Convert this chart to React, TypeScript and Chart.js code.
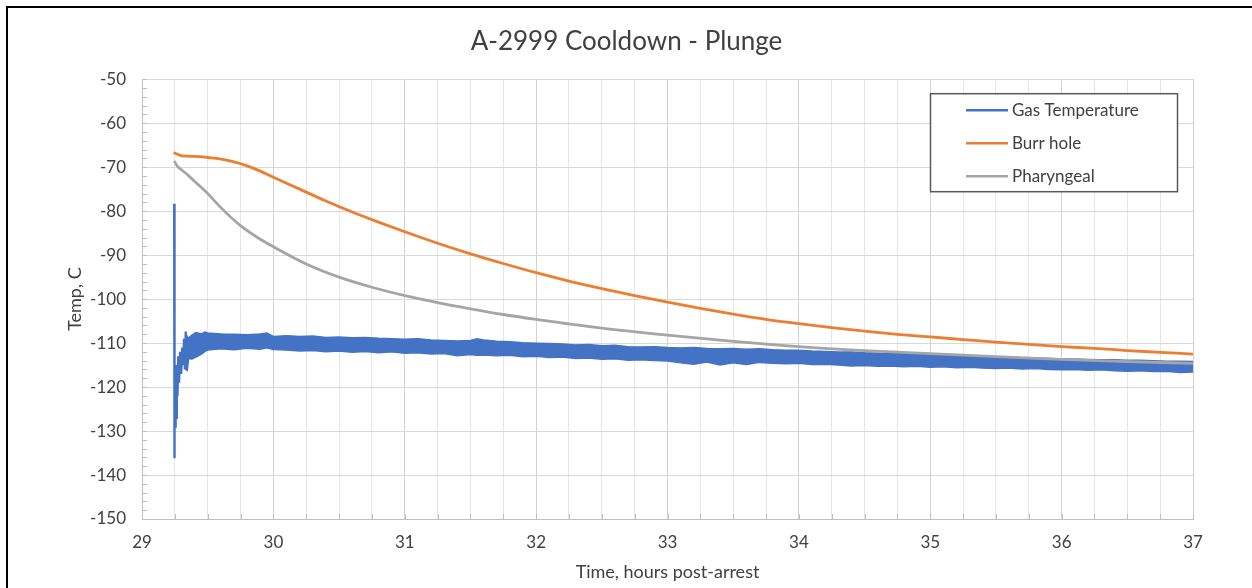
import React, { useEffect, useRef } from 'react';
import { Chart, registerables } from 'chart.js';

Chart.register(...registerables);

const chartTitle = 'A-2999 Cooldown - Plunge';
const xAxisTitle = 'Time, hours post-arrest';
const yAxisTitle = 'Temp, C';

const xMin = 29;
const xMax = 37;
const xStep = 0.25;
const yMin = -150;
const yMax = -50;
const yStep = 10;
const yMinorStep = 2;

const seriesNames = ['Gas Temperature', 'Burr hole', 'Pharyngeal'];
const seriesColors = ['#4472C4', '#ED7D31', '#A5A5A5'];

// Gas temperature: initial transient
const gasSpikeTime = [29.245, 29.246, 29.249, 29.252, 29.256, 29.26, 29.265, 29.27, 29.276, 29.282, 29.29, 29.298, 29.306, 29.314, 29.32, 29.327, 29.333];
const gasSpikeTemp = [-78.3, -136.2, -124, -129, -117, -127, -115, -122, -113, -119, -112, -117, -111, -115, -109, -116, -107.4];

// Gas temperature: noisy band (upper / lower envelope)
const gasBandTime = [29.33, 29.345, 29.355, 29.38, 29.41, 29.45, 29.48, 29.5, 29.6, 29.7, 29.8, 29.9, 29.95, 30.0, 30.1, 30.2, 30.3, 30.4, 30.5, 30.6, 30.7, 30.8, 30.9, 31.0, 31.1, 31.2, 31.3, 31.4, 31.5, 31.55, 31.6, 31.7, 31.8, 31.9, 32.0, 32.1, 32.2, 32.3, 32.4, 32.5, 32.6, 32.7, 32.8, 32.9, 33.0, 33.1, 33.2, 33.3, 33.4, 33.5, 33.6, 33.7, 33.8, 33.9, 34.0, 34.1, 34.2, 34.3, 34.4, 34.5, 34.6, 34.7, 34.8, 34.9, 35.0, 35.1, 35.2, 35.3, 35.4, 35.5, 35.6, 35.7, 35.8, 35.9, 36.0, 36.1, 36.2, 36.3, 36.4, 36.5, 36.6, 36.7, 36.8, 36.9, 37.0];
const gasBandHigh = [-107.4, -108.6, -108.8, -108.2, -107.6, -107.9, -107.5, -107.7, -107.9, -108.0, -108.1, -107.9, -107.7, -108.5, -108.3, -108.5, -108.4, -108.7, -108.6, -108.8, -108.7, -108.9, -109.0, -109.1, -109.0, -109.3, -109.4, -109.5, -109.4, -109.0, -109.3, -109.6, -109.7, -109.9, -110.0, -110.1, -110.2, -110.4, -110.3, -110.6, -110.5, -110.8, -110.9, -110.8, -111.0, -111.1, -111.0, -111.2, -111.3, -111.2, -111.4, -111.3, -111.5, -111.6, -111.6, -111.8, -111.9, -112.0, -112.0, -112.2, -112.3, -112.4, -112.4, -112.5, -112.6, -112.7, -112.8, -112.9, -113.0, -113.1, -113.2, -113.3, -113.4, -113.5, -113.6, -113.6, -113.7, -113.8, -113.8, -113.9, -113.9, -114.0, -114.1, -114.1, -114.2];
const gasBandLow = [-116.0, -116.2, -113.5, -113.6, -113.2, -112.6, -111.9, -111.6, -111.3, -111.5, -111.2, -111.4, -111.1, -111.5, -111.6, -111.8, -111.7, -112.0, -111.8, -112.1, -111.9, -112.2, -112.0, -112.3, -112.2, -112.5, -112.4, -112.9, -112.6, -112.8, -112.7, -112.9, -112.8, -113.1, -113.0, -113.3, -113.2, -113.5, -113.4, -113.7, -113.6, -113.9, -113.8, -114.0, -114.1, -114.5, -114.8, -114.3, -115.0, -114.5, -114.9, -114.4, -114.6, -114.7, -114.6, -114.9, -114.8, -115.0, -115.2, -115.1, -115.3, -115.2, -115.4, -115.3, -115.5, -115.4, -115.6, -115.5, -115.7, -115.8, -115.7, -115.9, -115.8, -116.0, -116.1, -116.0, -116.2, -116.1, -116.3, -116.4, -116.3, -116.5, -116.4, -116.7, -116.6];

// Burr hole
const burrTime = [29.24, 29.29, 29.35, 29.44, 29.5, 29.59, 29.7, 29.8, 29.9, 30.0, 30.2, 30.4, 30.6, 30.8, 31.0, 31.25, 31.5, 31.75, 32.0, 32.25, 32.5, 32.75, 33.0, 33.25, 33.5, 33.75, 34.0, 34.25, 34.5, 34.75, 35.0, 35.25, 35.5, 35.75, 36.0, 36.25, 36.5, 36.75, 37.0];
const burrTemp = [-66.7, -67.3, -67.5, -67.6, -67.8, -68.1, -68.8, -69.7, -70.9, -72.3, -75.0, -77.7, -80.2, -82.5, -84.7, -87.3, -89.7, -91.9, -94.0, -95.9, -97.6, -99.2, -100.7, -102.1, -103.4, -104.6, -105.6, -106.5, -107.3, -108.0, -108.6, -109.2, -109.8, -110.3, -110.8, -111.2, -111.7, -112.1, -112.5];

// Pharyngeal
const pharTime = [29.245, 29.27, 29.3, 29.35, 29.4, 29.5, 29.6, 29.75, 29.9, 30.0, 30.25, 30.5, 30.75, 31.0, 31.25, 31.5, 31.75, 32.0, 32.5, 33.0, 33.5, 34.0, 34.5, 35.0, 35.5, 36.0, 36.5, 37.0];
const pharTemp = [-68.6, -69.8, -70.6, -71.8, -73.2, -76.0, -79.2, -83.3, -86.4, -88.1, -92.0, -95.0, -97.3, -99.2, -100.8, -102.2, -103.5, -104.6, -106.6, -108.2, -109.6, -110.8, -111.7, -112.4, -113.1, -113.7, -114.2, -114.6];

const toPoints = (xs: number[], ys: number[]) => xs.map((x, i) => ({ x, y: ys[i] }));

const minorTicksPlugin = {
  id: 'minorTicks',
  beforeDatasetsDraw(chart: any) {
    const { ctx, chartArea, scales } = chart;
    const y = scales.y;
    const x = scales.x;
    ctx.save();
    ctx.strokeStyle = '#bfbfbf';
    ctx.lineWidth = 1;
    ctx.beginPath();
    for (let v = yMin; v <= yMax; v += yMinorStep) {
      const py = Math.round(y.getPixelForValue(v)) + 0.5;
      ctx.moveTo(chartArea.left, py);
      ctx.lineTo(chartArea.left + 5, py);
    }
    for (let v = xMin; v <= xMax + 1e-9; v += xStep) {
      const px = Math.round(x.getPixelForValue(v)) + 0.5;
      ctx.moveTo(px, chartArea.bottom);
      ctx.lineTo(px, chartArea.bottom - 5);
    }
    ctx.stroke();
    ctx.restore();
  },
};

const boxLegendPlugin = {
  id: 'boxLegend',
  afterDraw(chart: any) {
    const { ctx, chartArea } = chart;
    const w = 247;
    const h = 98;
    const left = chartArea.right - 16 - w;
    const top = chartArea.top + 14;
    ctx.save();
    ctx.fillStyle = '#ffffff';
    ctx.fillRect(left, top, w, h);
    ctx.strokeStyle = '#595959';
    ctx.lineWidth = 1.5;
    ctx.strokeRect(left + 0.5, top + 0.5, w, h);
    ctx.font = '17px Lato';
    ctx.textBaseline = 'middle';
    ctx.textAlign = 'left';
    seriesNames.forEach((name, i) => {
      const ry = top + 17 + i * 33;
      ctx.strokeStyle = seriesColors[i];
      ctx.lineWidth = 2.5;
      ctx.beginPath();
      ctx.moveTo(left + 36, ry);
      ctx.lineTo(left + 78, ry);
      ctx.stroke();
      ctx.fillStyle = '#404040';
      ctx.fillText(name, left + 82, ry);
    });
    ctx.restore();
  },
};

export default function App() {
  const canvasRef = useRef<HTMLCanvasElement | null>(null);

  useEffect(() => {
    if (!canvasRef.current) return;
    Chart.defaults.font.family = 'Lato';
    const chart = new Chart(canvasRef.current, {
      type: 'line',
      data: {
        datasets: [
          {
            label: seriesNames[0],
            data: toPoints(gasBandTime, gasBandHigh),
            borderColor: seriesColors[0],
            backgroundColor: seriesColors[0],
            borderWidth: 1.4,
            pointRadius: 0,
            fill: '+1',
            order: 3,
          },
          {
            label: seriesNames[0] + ' low',
            data: toPoints(gasBandTime, gasBandLow),
            borderColor: seriesColors[0],
            backgroundColor: seriesColors[0],
            borderWidth: 1.4,
            pointRadius: 0,
            fill: false,
            order: 3,
          },
          {
            label: seriesNames[0] + ' start',
            data: toPoints(gasSpikeTime, gasSpikeTemp),
            borderColor: seriesColors[0],
            borderWidth: 2.4,
            pointRadius: 0,
            fill: false,
            order: 2,
          },
          {
            label: seriesNames[1],
            data: toPoints(burrTime, burrTemp),
            borderColor: seriesColors[1],
            borderWidth: 2.8,
            pointRadius: 0,
            fill: false,
            cubicInterpolationMode: 'monotone',
            order: 1,
          },
          {
            label: seriesNames[2],
            data: toPoints(pharTime, pharTemp),
            borderColor: seriesColors[2],
            borderWidth: 2.8,
            pointRadius: 0,
            fill: false,
            cubicInterpolationMode: 'monotone',
            order: 0,
          },
        ],
      },
      options: {
        animation: false,
        responsive: false,
        events: [],
        layout: { padding: { left: 60, right: 59, top: 0, bottom: 1 } },
        elements: { line: { tension: 0 } },
        plugins: {
          legend: { display: false },
          tooltip: { enabled: false },
          title: {
            display: true,
            text: chartTitle,
            color: '#404040',
            font: { size: 26, weight: 'normal', family: 'Lato' },
            padding: { top: 26, bottom: 22 },
          },
        },
        scales: {
          x: {
            type: 'linear',
            min: xMin,
            max: xMax,
            afterFit: (s: any) => { s.height = 68; },
            ticks: {
              stepSize: xStep,
              autoSkip: false,
              maxRotation: 0,
              padding: 13,
              color: '#404040',
              font: { size: 17 },
              callback: (v: any) => (Number.isInteger(v) ? String(v) : ''),
            },
            grid: {
              drawTicks: false,
              color: (c: any) => (Number.isInteger(c.tick?.value) ? '#d2d2d2' : '#e6e6e6'),
            },
            border: { color: '#bfbfbf', width: 1 },
            title: {
              display: true,
              text: xAxisTitle,
              color: '#404040',
              font: { size: 18 },
            },
          },
          y: {
            type: 'linear',
            min: yMin,
            max: yMax,
            afterFit: (s: any) => { s.width = 82; },
            ticks: {
              stepSize: yStep,
              padding: 16,
              color: '#404040',
              font: { size: 17 },
            },
            grid: { drawTicks: false, color: '#d9d9d9' },
            border: { color: '#bfbfbf', width: 1 },
            title: {
              display: true,
              text: yAxisTitle,
              color: '#404040',
              font: { size: 18 },
            },
          },
        },
      },
      plugins: [minorTicksPlugin, boxLegendPlugin],
    });
    return () => chart.destroy();
  }, []);

  return (
    <div style={{ position: 'fixed', left: 0, top: 0, width: 1252, height: 588, overflow: 'hidden', background: '#fff' }}>
      <canvas ref={canvasRef} width={1252} height={588} style={{ position: 'absolute', left: 0, top: 0, display: 'block' }} />
      <div style={{ position: 'absolute', left: 6, top: 6, width: 1270, height: 600, border: '2px solid #000', pointerEvents: 'none' }} />
    </div>
  );
}
